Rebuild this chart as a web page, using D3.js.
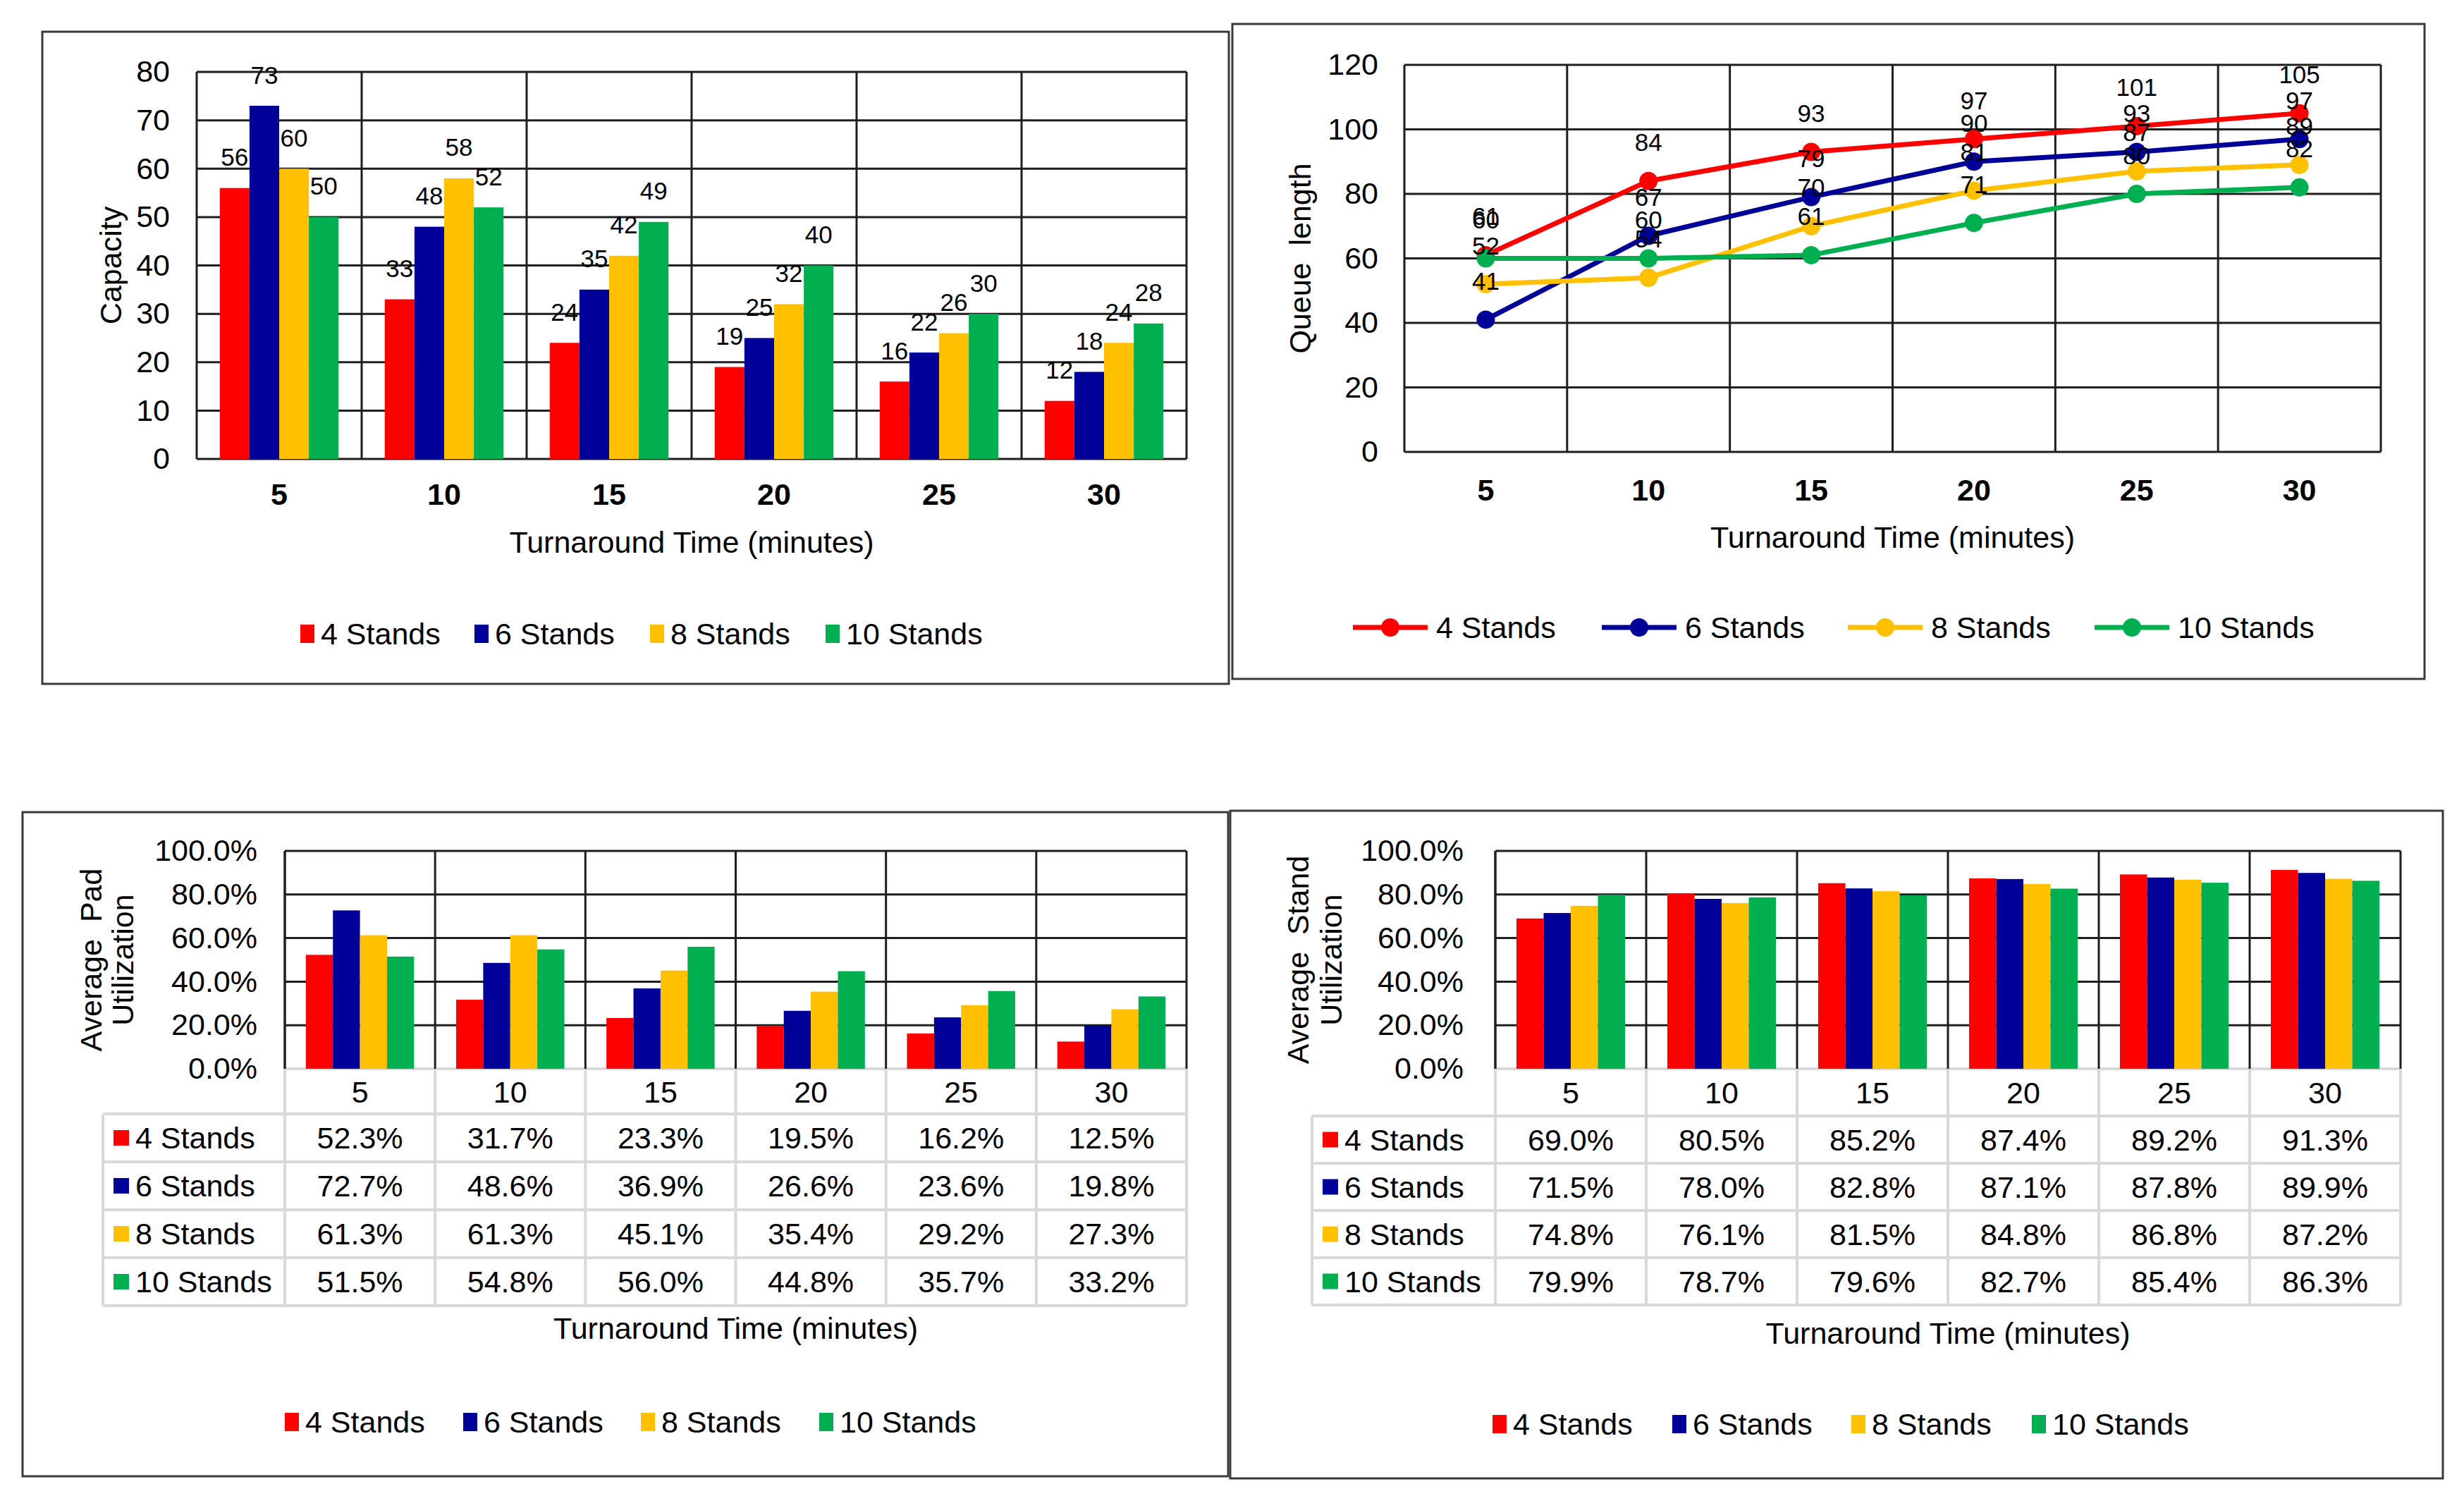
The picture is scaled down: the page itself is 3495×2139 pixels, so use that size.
<!DOCTYPE html>
<html><head><meta charset="utf-8">
<script src="https://cdn.jsdelivr.net/npm/d3@7"></script>
<style>
body{margin:0;background:#fff}
svg{display:block}
text{font-family:"Liberation Sans",Arial,sans-serif;fill:#000}
.lbl{font-family:"Liberation Sans Narrow","Arial Narrow","Liberation Sans",sans-serif}
</style>
</head><body>
<script>
// ---------------- DATA ----------------
const turnaround = ["5","10","15","20","25","30"];
const seriesNames = ["4 Stands","6 Stands","8 Stands","10 Stands"];
const seriesColors = ["#FF0000","#000099","#FFC000","#00B050"];

const capacity4  = [56,33,24,19,16,12];
const capacity6  = [73,48,35,25,22,18];
const capacity8  = [60,58,42,32,26,24];
const capacity10 = [50,52,49,40,30,28];

const queue4  = [61,84,93,97,101,105];
const queue6  = [41,67,79,90,93,97];
const queue8  = [52,54,70,81,87,89];
const queue10 = [60,60,61,71,80,82];

const padUtil4  = [52.3,31.7,23.3,19.5,16.2,12.5];
const padUtil6  = [72.7,48.6,36.9,26.6,23.6,19.8];
const padUtil8  = [61.3,61.3,45.1,35.4,29.2,27.3];
const padUtil10 = [51.5,54.8,56.0,44.8,35.7,33.2];

const standUtil4  = [69.0,80.5,85.2,87.4,89.2,91.3];
const standUtil6  = [71.5,78.0,82.8,87.1,87.8,89.9];
const standUtil8  = [74.8,76.1,81.5,84.8,86.8,87.2];
const standUtil10 = [79.9,78.7,79.6,82.7,85.4,86.3];

const capacityTicks = [0,10,20,30,40,50,60,70,80];
const queueTicks = [0,20,40,60,80,100,120];
const utilTicks = [0,20,40,60,80,100];

const xTitle = "Turnaround Time (minutes)";

// ---------------- SETUP ----------------
const W = 3495, H = 2139;
const FONT = 43, LABEL_FONT = 35;
const GRID = "#1e1e1e", TABLE_GRID = "#d9d9d9";
const svg = d3.select("body").append("svg").attr("width", W).attr("height", H);
svg.append("rect").attr("width", W).attr("height", H).attr("fill", "#fff");

function border(c){
  svg.append("rect").attr("x", c.bx0).attr("y", c.by0)
    .attr("width", c.bx1 - c.bx0).attr("height", c.by1 - c.by0)
    .attr("fill", "none").attr("stroke", "#3a3a3a").attr("stroke-width", 3);
}
function yTitleText(lines, cy){
  lines.forEach(([t, x]) => {
    svg.append("text").attr("transform", `translate(${x},${cy}) rotate(-90)`)
      .attr("text-anchor", "middle").attr("dominant-baseline", "central")
      .attr("font-size", FONT).text(t);
  });
}
function xTitleText(c){
  svg.append("text").attr("x", (c.px0 + c.px1) / 2).attr("y", c.xTitleY)
    .attr("text-anchor", "middle").attr("dominant-baseline", "central")
    .attr("font-size", FONT).text(xTitle);
}
function grid(c, x, y, ticks){
  const g = svg.append("g");
  g.selectAll("line.h").data(ticks).join("line")
    .attr("x1", c.px0).attr("x2", c.px1).attr("y1", d => y(d)).attr("y2", d => y(d))
    .attr("stroke", GRID).attr("stroke-width", 3);
  const vx = turnaround.map(d => x(d)).concat([c.px1]);
  g.selectAll("line.v").data(vx).join("line")
    .attr("x1", d => d).attr("x2", d => d).attr("y1", c.py0).attr("y2", c.py1)
    .attr("stroke", GRID).attr("stroke-width", 3);
}
function leftAxis(c, y, ticks, fmt){
  const ax = d3.axisLeft(y).tickValues(ticks).tickSize(0).tickPadding(c.yPad)
    .tickFormat(fmt || (d => d));
  const g = svg.append("g").attr("transform", `translate(${c.px0},0)`).call(ax);
  g.select(".domain").remove();
  g.selectAll("text").attr("font-size", FONT).attr("font-family", null).attr("fill", "#000");
  g.attr("font-family", null).attr("font-size", null);
}
function bottomAxis(c, x, yPos, pad, bold){
  const ax = d3.axisBottom(x).tickSize(0).tickPadding(pad);
  const g = svg.append("g").attr("transform", `translate(0,${yPos})`).call(ax);
  g.select(".domain").remove();
  g.attr("font-family", null).attr("font-size", null);
  g.selectAll("text").attr("font-size", FONT).attr("fill", "#000")
    .attr("font-weight", bold ? "bold" : null);
}
function squareLegend(c){
  const g = svg.append("g");
  seriesNames.forEach((s, i) => {
    g.append("rect").attr("x", c.legendX[i]).attr("y", c.legendY - 13)
      .attr("width", 20).attr("height", 26).attr("fill", seriesColors[i]);
    g.append("text").attr("x", c.legendX[i] + 29).attr("y", c.legendY)
      .attr("dominant-baseline", "central").attr("font-size", FONT).text(s);
  });
}
function groupedBars(c, x, y, data, withLabels){
  const xs = d3.scaleBand().domain(seriesNames)
    .range([x.bandwidth() * 0.14, x.bandwidth() * 0.86]).padding(0);
  data.forEach((vals, i) => {
    svg.append("g").selectAll("rect").data(vals).join("rect")
      .attr("x", (d, j) => x(turnaround[j]) + xs(seriesNames[i]))
      .attr("width", xs.bandwidth())
      .attr("y", d => y(d)).attr("height", d => y(0) - y(d))
      .attr("fill", seriesColors[i]);
  });
  if (withLabels){
    data.forEach((vals, i) => {
      svg.append("g").selectAll("text").data(vals).join("text")
        .attr("class", "lbl")
        .attr("x", (d, j) => x(turnaround[j]) + xs(seriesNames[i]) + xs.bandwidth() / 2)
        .attr("y", d => y(d) - 44)
        .attr("text-anchor", "middle").attr("dominant-baseline", "central")
        .attr("font-size", LABEL_FONT).attr("fill", "#1a1a1a").text(d => d);
    });
  }
}

// ---------------- PANEL 1: Capacity ----------------
(function(){
  const c = {bx0:60, by0:45, bx1:1743, by1:970, px0:279, px1:1683, py0:102, py1:651,
    yPad:38, xPad:34, xTitleY:769, legendY:899, legendX:[426,673,922,1171]};
  border(c);
  const x = d3.scaleBand().domain(turnaround).range([c.px0, c.px1]).padding(0);
  const y = d3.scaleLinear().domain([0, 80]).range([c.py1, c.py0]);
  grid(c, x, y, capacityTicks);
  groupedBars(c, x, y, [capacity4, capacity6, capacity8, capacity10], true);
  leftAxis(c, y, capacityTicks);
  bottomAxis(c, x, c.py1, c.xPad, true);
  yTitleText([["Capacity", 157]], (c.py0 + c.py1) / 2);
  xTitleText(c);
  squareLegend(c);
})();

// ---------------- PANEL 2: Queue length ----------------
(function(){
  const c = {bx0:1748, by0:34, bx1:3439, by1:963, px0:1992, px1:3377, py0:92, py1:641,
    yPad:37, xPad:38, xTitleY:762, legendY:890, legendX:[1919,2272,2621,2971]};
  border(c);
  const x = d3.scaleBand().domain(turnaround).range([c.px0, c.px1]).padding(0);
  const y = d3.scaleLinear().domain([0, 120]).range([c.py1, c.py0]);
  grid(c, x, y, queueTicks);
  const data = [queue4, queue6, queue8, queue10];
  const cx = j => x(turnaround[j]) + x.bandwidth() / 2;
  const line = d3.line().x((d, j) => cx(j)).y(d => y(d));
  data.forEach((vals, i) => {
    const g = svg.append("g");
    g.append("path").datum(vals).attr("d", line).attr("fill", "none")
      .attr("stroke", seriesColors[i]).attr("stroke-width", 7)
      .attr("stroke-linejoin", "round").attr("stroke-linecap", "round");
    g.selectAll("circle").data(vals).join("circle")
      .attr("cx", (d, j) => cx(j)).attr("cy", d => y(d)).attr("r", 13)
      .attr("fill", seriesColors[i]);
  });
  data.forEach((vals, i) => {
    svg.append("g").selectAll("text").data(vals).join("text")
      .attr("class", "lbl")
      .attr("x", (d, j) => cx(j)).attr("y", d => y(d) - 55)
      .attr("text-anchor", "middle").attr("dominant-baseline", "central")
      .attr("font-size", LABEL_FONT).attr("fill", "#1a1a1a").text(d => d);
  });
  leftAxis(c, y, queueTicks);
  bottomAxis(c, x, c.py1, c.xPad, true);
  yTitleText([["Queue\u00a0 length", 1844]], (c.py0 + c.py1) / 2);
  xTitleText(c);
  const lg = svg.append("g");
  seriesNames.forEach((s, i) => {
    const x0 = c.legendX[i];
    lg.append("line").attr("x1", x0).attr("x2", x0 + 106)
      .attr("y1", c.legendY).attr("y2", c.legendY)
      .attr("stroke", seriesColors[i]).attr("stroke-width", 7);
    lg.append("circle").attr("cx", x0 + 53).attr("cy", c.legendY).attr("r", 13)
      .attr("fill", seriesColors[i]);
    lg.append("text").attr("x", x0 + 118).attr("y", c.legendY)
      .attr("dominant-baseline", "central").attr("font-size", FONT).text(s);
  });
})();

// ---------------- PANELS 3 & 4: utilization with data table ----------------
function utilPanel(c, data){
  border(c);
  const x = d3.scaleBand().domain(turnaround).range([c.px0, c.px1]).padding(0);
  const y = d3.scaleLinear().domain([0, 100]).range([c.py1, c.py0]);
  const headerBottom = c.py1 + c.headerH;
  const rows = d3.scaleBand().domain(seriesNames)
    .range([headerBottom, headerBottom + 4 * c.rowH]).padding(0);
  const tableBottom = headerBottom + 4 * c.rowH;
  // table grid
  const tg = svg.append("g").attr("stroke", TABLE_GRID).attr("stroke-width", 4);
  tg.append("line").attr("x1", c.px0).attr("x2", c.px1).attr("y1", c.py1).attr("y2", c.py1);
  const hl = seriesNames.map(s => rows(s)).concat([tableBottom]);
  tg.selectAll("line.h").data(hl).join("line")
    .attr("x1", c.tableLeft).attr("x2", c.px1).attr("y1", d => d).attr("y2", d => d);
  const vl = turnaround.map(d => x(d)).concat([c.px1]);
  tg.selectAll("line.v").data(vl).join("line")
    .attr("x1", d => d).attr("x2", d => d).attr("y1", c.py1).attr("y2", tableBottom);
  tg.append("line").attr("x1", c.tableLeft).attr("x2", c.tableLeft)
    .attr("y1", headerBottom).attr("y2", tableBottom);
  // plot grid
  grid(c, x, y, utilTicks.filter(d => d > 0));
  svg.append("line").attr("x1", c.px0).attr("x2", c.px0).attr("y1", c.py0).attr("y2", c.py1)
    .attr("stroke", GRID).attr("stroke-width", 3);
  groupedBars(c, x, y, data, false);
  leftAxis(c, y, utilTicks, d => d.toFixed(1) + "%");
  bottomAxis(c, x, c.py1, (c.headerH / 2) - 15, false);
  // table body
  data.forEach((vals, i) => {
    const cy = rows(seriesNames[i]) + rows.bandwidth() / 2;
    svg.append("rect").attr("x", c.tableLeft + 15).attr("y", cy - 11)
      .attr("width", 22).attr("height", 22).attr("fill", seriesColors[i]);
    svg.append("text").attr("x", c.tableLeft + 46).attr("y", cy)
      .attr("dominant-baseline", "central").attr("font-size", FONT).text(seriesNames[i]);
    svg.append("g").selectAll("text").data(vals).join("text")
      .attr("x", (d, j) => x(turnaround[j]) + x.bandwidth() / 2).attr("y", cy)
      .attr("text-anchor", "middle").attr("dominant-baseline", "central")
      .attr("font-size", FONT).text(d => d.toFixed(1) + "%");
  });
  yTitleText(c.yTitle, (c.py0 + c.py1) / 2);
  xTitleText(c);
  squareLegend(c);
}

utilPanel({bx0:32, by0:1152, bx1:1742, by1:2094, px0:404, px1:1683, py0:1207, py1:1516,
  yPad:39, tableLeft:146, headerH:64, rowH:68,
  yTitle:[["Average\u00a0 Pad",129],["Utilization",174]],
  xTitleY:1884, legendY:2017, legendX:[404,657,909,1162]},
  [padUtil4, padUtil6, padUtil8, padUtil10]);

utilPanel({bx0:1745, by0:1150, bx1:3465, by1:2097, px0:2121, px1:3405, py0:1207, py1:1516,
  yPad:45, tableLeft:1861, headerH:67, rowH:67,
  yTitle:[["Average\u00a0 Stand",1841],["Utilization",1888]],
  xTitleY:1891, legendY:2020, legendX:[2117,2372,2626,2882]},
  [standUtil4, standUtil6, standUtil8, standUtil10]);
</script>
</body></html>
